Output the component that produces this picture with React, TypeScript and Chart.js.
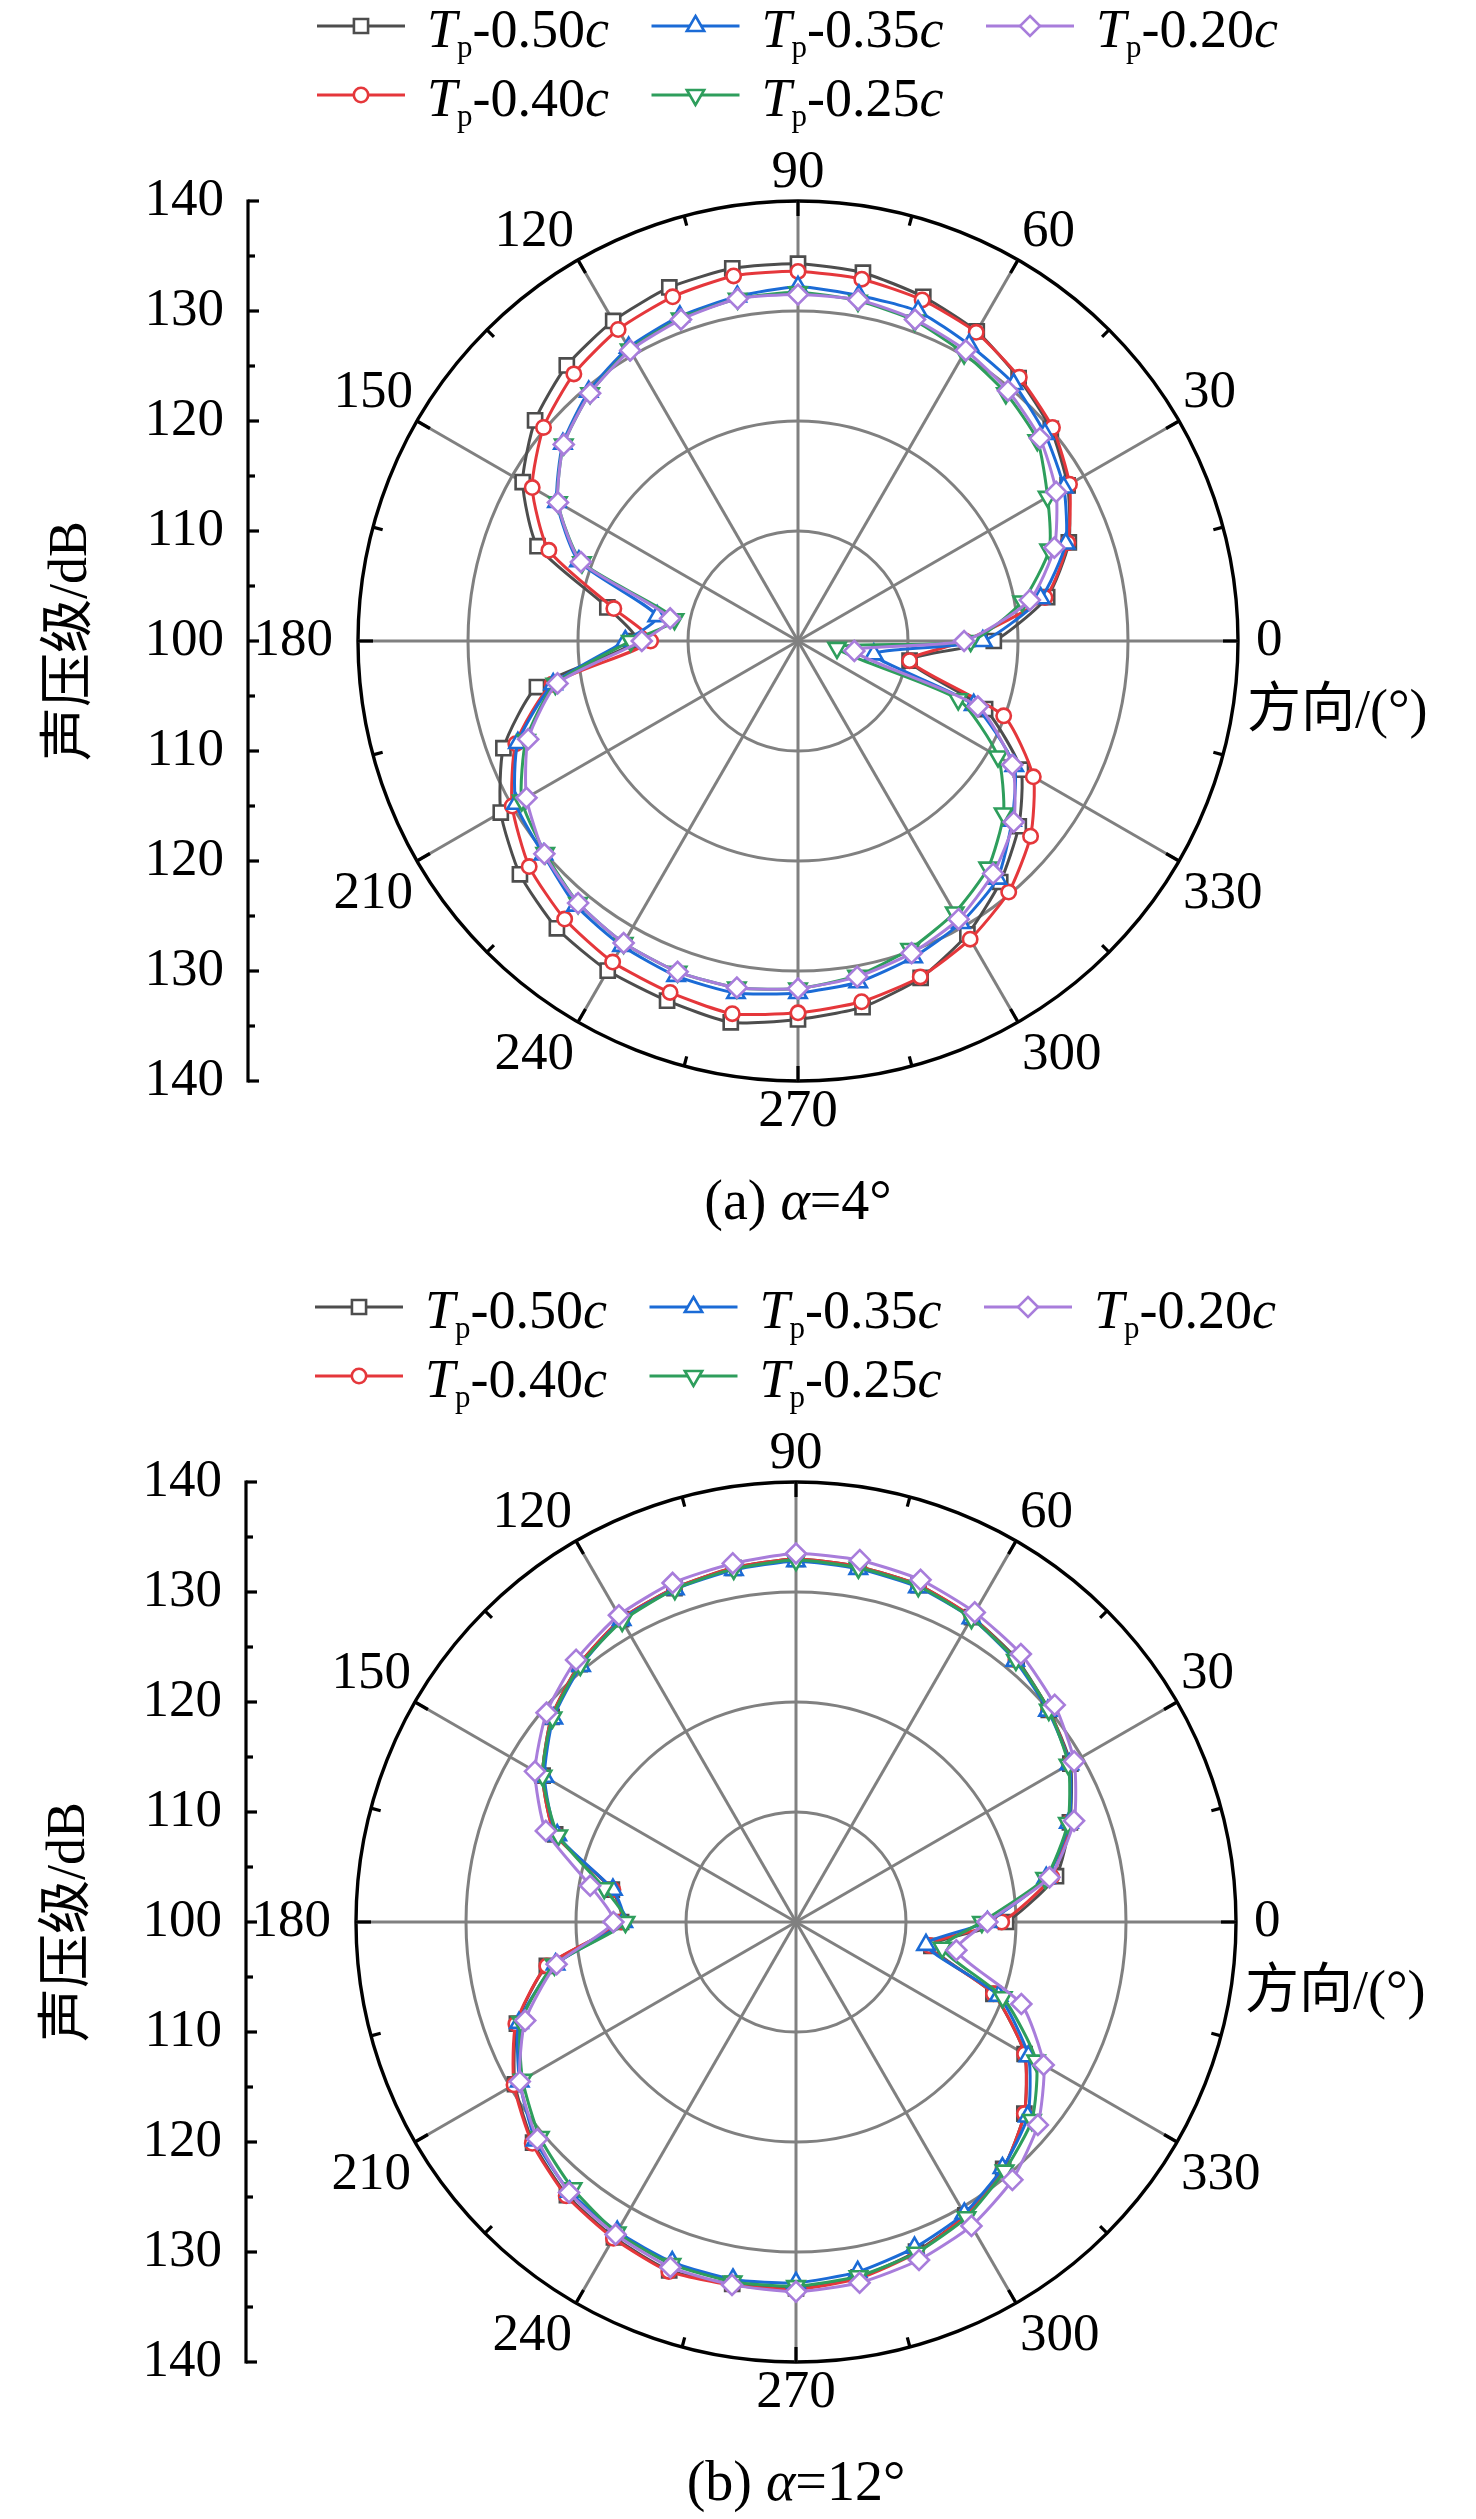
import React, { useEffect, useRef } from 'react';
import { Chart, registerables } from 'chart.js';

Chart.register(...registerables);

// ---------- data ----------
const ANGLES_DEG = [0, 10, 20, 30, 40, 50, 60, 70, 80, 90, 100, 110, 120, 130, 140, 150, 160, 170,
  180, 190, 200, 210, 220, 230, 240, 250, 260, 270, 280, 290, 300, 310, 320, 330, 340, 350];
const ANGLE_TICK_LABELS = [0, 30, 60, 90, 120, 150, 180, 210, 240, 270, 300, 330];
const ANGLE_MINOR_TICKS = [15, 45, 75, 105, 135, 165, 195, 225, 255, 285, 315, 345];
const R_TICKS = [100, 110, 120, 130, 140];
const R_MINOR_TICKS = [105, 115, 125, 135];
const SERIES_LABELS = ['0.50', '0.40', '0.35', '0.25', '0.20'];

// alpha = 4 deg
const A4_TP050 = [117.8, 123.0, 126.2, 128.3, 130.0, 131.2, 132.5, 133.3, 134.0, 134.3, 134.4, 134.2, 133.6, 132.7, 131.2, 128.9, 125.2, 117.6,
  114.7, 124.1, 128.5, 131.2, 133.0, 134.1, 134.6, 134.8, 135.2, 134.4, 133.8, 132.6, 130.8, 128.6, 126.2, 123.4, 118.1, 110.3];
const A4_TP040 = [115.2, 122.8, 126.1, 128.5, 130.2, 131.3, 132.4, 133.0, 133.4, 133.6, 133.7, 133.3, 132.7, 131.7, 130.2, 127.9, 124.1, 117.0,
  113.4, 122.7, 127.3, 130.0, 131.9, 133.0, 133.7, 134.0, 134.4, 133.8, 133.3, 132.5, 131.3, 129.8, 127.6, 124.7, 119.9, 110.3];
const A4_TP035 = [116.8, 122.4, 125.9, 127.9, 129.3, 130.5, 131.1, 131.9, 131.9, 132.2, 131.8, 131.4, 130.8, 129.6, 127.9, 125.3, 121.2, 113.0,
  115.7, 122.6, 127.1, 129.6, 130.2, 131.4, 132.0, 132.4, 132.5, 132.0, 131.5, 130.6, 129.6, 128.2, 125.4, 122.7, 117.0, 107.0];
const A4_TP025 = [115.7, 120.7, 124.3, 126.2, 128.4, 129.4, 130.2, 131.0, 131.4, 131.7, 131.6, 131.2, 130.6, 129.4, 127.8, 125.2, 120.9, 111.4,
  115.2, 122.4, 126.3, 129.0, 130.0, 131.1, 131.7, 132.0, 132.0, 131.6, 130.9, 129.8, 128.5, 126.9, 124.4, 121.0, 115.5, 103.6];
const A4_TP020 = [115.1, 121.4, 124.8, 127.1, 128.7, 129.7, 130.5, 131.1, 131.5, 131.5, 131.6, 131.1, 130.5, 129.4, 127.8, 125.2, 121.0, 111.8,
  114.2, 122.2, 126.1, 128.5, 130.1, 131.1, 131.7, 132.0, 132.0, 131.6, 131.0, 130.2, 129.2, 127.6, 125.6, 122.5, 117.4, 105.2];

// alpha = 12 deg
const A12_TP050 = [119.1, 124.0, 126.5, 128.8, 130.0, 131.2, 132.0, 132.6, 132.8, 133.0, 132.7, 132.3, 131.8, 130.6, 129.0, 126.6, 123.3, 117.0,
  115.9, 123.0, 127.0, 129.5, 131.2, 132.4, 133.1, 133.7, 133.4, 133.3, 132.8, 131.9, 130.8, 129.3, 127.1, 124.0, 119.1, 112.5];
const A12_TP040 = [118.7, 123.6, 126.4, 128.7, 130.0, 131.1, 132.0, 132.6, 132.8, 133.0, 132.7, 132.3, 131.8, 130.6, 129.0, 126.6, 123.3, 116.9,
  115.9, 123.0, 127.1, 129.6, 131.3, 132.5, 133.2, 133.8, 133.5, 133.4, 132.9, 132.0, 130.8, 129.3, 127.1, 124.0, 119.1, 112.3];
const A12_TP035 = [117.4, 123.1, 126.4, 128.7, 129.9, 131.0, 131.9, 132.4, 132.6, 132.8, 132.5, 132.2, 131.7, 130.4, 128.8, 126.4, 123.1, 116.9,
  115.7, 122.2, 126.8, 129.0, 130.9, 132.0, 132.5, 132.9, 133.0, 132.8, 132.3, 131.5, 130.6, 129.2, 127.5, 124.4, 119.6, 112.0];
const A12_TP025 = [116.9, 123.0, 126.3, 128.6, 130.0, 131.1, 131.9, 132.5, 132.7, 132.9, 132.6, 132.2, 131.6, 130.5, 128.9, 126.6, 123.0, 117.7,
  115.5, 122.3, 126.6, 128.7, 130.4, 131.6, 132.6, 133.1, 133.2, 133.1, 132.7, 132.0, 131.0, 129.5, 128.0, 125.2, 120.0, 113.5];
const A12_TP020 = [117.4, 123.4, 126.9, 129.2, 130.7, 131.8, 132.5, 133.1, 133.4, 133.5, 133.1, 132.8, 132.2, 131.1, 129.6, 127.4, 124.2, 119.0,
  116.6, 122.1, 126.2, 129.0, 130.7, 132.1, 132.8, 133.4, 133.5, 133.6, 133.3, 132.7, 131.9, 130.6, 128.7, 126.0, 121.8, 114.8];

// ---------- styles ----------
const COLORS = ['#4d4d4d', '#e5373b', '#1b6bd6', '#2e9e5c', '#a87ddb'];
const POINT_STYLES = ['rect', 'circle', 'triangle', 'triangle', 'rectRot'];
const POINT_ROT = [0, 0, 0, 180, 0];
const POINT_R = [10, 7.2, 10, 10, 10];
const LEGEND_SLOTS = [[0, 0], [1, 0], [0, 1], [1, 1], [0, 2]]; // [row, col]

const SERIF = '"Liberation Serif", Tinos, "Times New Roman", Times, "Nimbus Roman", "DejaVu Serif", serif, "Noto Sans CJK SC"';
const font = (size: number, italic = false) => `${italic ? 'italic ' : ''}${size}px ${SERIF}`;

type Part = { t: string; size: number; italic?: boolean; dy?: number };

function partsWidth(ctx: CanvasRenderingContext2D, parts: Part[]) {
  let w = 0;
  for (const p of parts) {
    ctx.font = font(p.size, p.italic);
    w += ctx.measureText(p.t).width;
  }
  return w;
}

function drawParts(ctx: CanvasRenderingContext2D, parts: Part[], x: number, y: number) {
  ctx.textAlign = 'left';
  ctx.textBaseline = 'alphabetic';
  let px = x;
  for (const p of parts) {
    ctx.font = font(p.size, p.italic);
    ctx.fillText(p.t, px, y + (p.dy || 0));
    px += ctx.measureText(p.t).width;
  }
}

function drawMarker(ctx: CanvasRenderingContext2D, style: string, rot: number, r: number, x: number, y: number, color: string) {
  ctx.save();
  ctx.translate(x, y);
  ctx.rotate((rot * Math.PI) / 180);
  ctx.beginPath();
  if (style === 'rect') {
    const s = r * Math.SQRT1_2;
    ctx.rect(-s, -s, 2 * s, 2 * s);
  } else if (style === 'circle') {
    ctx.arc(0, 0, r, 0, Math.PI * 2);
  } else if (style === 'triangle') {
    for (let k = 0; k < 3; k++) {
      const a = (k * 2 * Math.PI) / 3;
      const px = Math.sin(a) * r;
      const py = -Math.cos(a) * r;
      if (k === 0) ctx.moveTo(px, py);
      else ctx.lineTo(px, py);
    }
    ctx.closePath();
  } else {
    ctx.moveTo(0, -r);
    ctx.lineTo(r, 0);
    ctx.lineTo(0, r);
    ctx.lineTo(-r, 0);
    ctx.closePath();
  }
  ctx.fillStyle = '#ffffff';
  ctx.fill();
  ctx.lineWidth = 2.6;
  ctx.strokeStyle = color;
  ctx.stroke();
  ctx.restore();
}

// radar index i runs clockwise from 0 deg; polar angle is counter-clockwise
const toRadarOrder = <T,>(arr: T[]): T[] => arr.map((_, i) => arr[(arr.length - i) % arr.length]);

function makeDecorPlugin(caption: Part[]) {
  return {
    id: 'decor',
    afterDraw(chart: any) {
      const ctx: CanvasRenderingContext2D = chart.ctx;
      const s = chart.scales.r;
      const cx = s.xCenter;
      const cy = s.yCenter;
      const R = s.getDistanceFromCenterForValue(s.max);
      const n = chart.data.labels.length;
      const step = 360 / n;
      const idx = (deg: number) => ((360 - deg) % 360) / step;

      ctx.save();
      ctx.fillStyle = '#000';
      ctx.strokeStyle = '#000';
      ctx.lineCap = 'butt';

      // ticks on the outer circle
      ctx.lineWidth = 3.2;
      const tick = (deg: number, len: number) => {
        const a = s.getPointPosition(idx(deg), R + 1);
        const b = s.getPointPosition(idx(deg), R - len);
        ctx.beginPath();
        ctx.moveTo(a.x, a.y);
        ctx.lineTo(b.x, b.y);
        ctx.stroke();
      };
      ANGLE_TICK_LABELS.forEach((d) => tick(d, 15));
      ANGLE_MINOR_TICKS.forEach((d) => tick(d, 10));

      // angle labels
      ctx.font = font(53);
      ctx.textBaseline = 'middle';
      for (const deg of ANGLE_TICK_LABELS) {
        const p = s.getPointPosition(idx(deg), R);
        let x = p.x;
        let y = p.y;
        let align: CanvasTextAlign = 'center';
        if (deg === 0) { align = 'left'; x += 18; }
        else if (deg === 180) { align = 'right'; x -= 25; }
        else if (deg === 90) { y -= 28; }
        else if (deg === 270) { y += 31; }
        else {
          const c = Math.cos((deg * Math.PI) / 180);
          align = c > 0 ? 'left' : 'right';
          x += c > 0 ? 4 : -4;
          y += deg < 180 ? -28 : 33;
        }
        ctx.textAlign = align;
        ctx.fillText(String(deg), x, y);
      }

      // left radial axis
      const ax = cx - 550;
      ctx.lineWidth = 3.2;
      ctx.beginPath();
      ctx.moveTo(ax, cy - R - 1.5);
      ctx.lineTo(ax, cy + R + 1.5);
      ctx.stroke();
      ctx.textAlign = 'right';
      ctx.textBaseline = 'middle';
      ctx.font = font(53);
      for (const v of R_TICKS) {
        const d = s.getDistanceFromCenterForValue(v);
        const ys = d === 0 ? [cy] : [cy - d, cy + d];
        for (const y of ys) {
          ctx.beginPath();
          ctx.moveTo(ax, y);
          ctx.lineTo(ax + 11, y);
          ctx.stroke();
          ctx.fillText(String(v), ax - 24, y);
        }
      }
      for (const v of R_MINOR_TICKS) {
        const d = s.getDistanceFromCenterForValue(v);
        for (const y of [cy - d, cy + d]) {
          ctx.beginPath();
          ctx.moveTo(ax, y);
          ctx.lineTo(ax + 7, y);
          ctx.stroke();
        }
      }

      // axis titles
      ctx.save();
      ctx.translate(cx - 726, cy);
      ctx.rotate(-Math.PI / 2);
      ctx.textAlign = 'center';
      ctx.textBaseline = 'middle';
      ctx.font = font(54);
      ctx.fillText('声压级/dB', 0, 0);
      ctx.restore();

      ctx.textAlign = 'left';
      ctx.textBaseline = 'middle';
      ctx.font = font(54);
      ctx.fillText('方向/(°)', cx + 449, cy + 72);

      // caption
      const cw = partsWidth(ctx, caption);
      drawParts(ctx, caption, cx - cw / 2, cy + 578);

      // legend
      chart.data.datasets.forEach((ds: any, i: number) => {
        const [row, col] = LEGEND_SLOTS[i];
        const x0 = cx - 481 + col * 334.5;
        const ym = 26 + row * 69;
        ctx.strokeStyle = ds.borderColor;
        ctx.lineWidth = 3;
        ctx.beginPath();
        ctx.moveTo(x0, ym);
        ctx.lineTo(x0 + 88, ym);
        ctx.stroke();
        drawMarker(ctx, ds.pointStyle, ds.pointRotation || 0, ds.pointRadius, x0 + 44, ym, ds.borderColor);
        ctx.fillStyle = '#000';
        drawParts(ctx, [
          { t: 'T', size: 54, italic: true },
          { t: 'p', size: 31, dy: 10 },
          { t: '-' + SERIES_LABELS[i], size: 54 },
          { t: 'c', size: 54, italic: true },
        ], x0 + 110, ym + 21);
      });

      ctx.restore();
    },
  };
}

type PanelProps = {
  top: number;
  height: number;
  left: number;
  series: number[][];
  caption: Part[];
};

function PolarPanel({ top, height, left, series, caption }: PanelProps) {
  const ref = useRef<HTMLCanvasElement>(null);

  useEffect(() => {
    if (!ref.current) return;
    const R = 440;
    const cx = 798 + left;
    const cy = 641;
    const chart = new Chart(ref.current, {
      type: 'radar',
      data: {
        labels: toRadarOrder(ANGLES_DEG).map(String),
        datasets: series.map((vals, i) => ({
          label: 'Tp-' + SERIES_LABELS[i] + 'c',
          data: toRadarOrder(vals),
          borderColor: COLORS[i],
          backgroundColor: COLORS[i],
          borderWidth: 3,
          pointStyle: POINT_STYLES[i] as any,
          pointRotation: POINT_ROT[i],
          pointRadius: POINT_R[i],
          pointBorderWidth: 2.6,
          pointBorderColor: COLORS[i],
          pointBackgroundColor: '#ffffff',
          tension: 0.2,
          fill: false,
          order: 5 - i,
        })),
      },
      options: {
        responsive: false,
        animation: false,
        events: [],
        layout: {
          padding: { left: cx - R, right: 1476 - (cx + R), top: cy - R, bottom: height - (cy + R) },
        },
        plugins: {
          legend: { display: false },
          tooltip: { enabled: false },
          title: { display: false },
        },
        scales: {
          r: {
            min: 100,
            max: 140,
            startAngle: 90,
            ticks: { display: false, stepSize: 10 },
            pointLabels: { display: false },
            grid: {
              circular: true,
              color: (c: any) => (c.index === R_TICKS.length - 1 ? '#000000' : '#808080'),
              lineWidth: (c: any) => (c.index === R_TICKS.length - 1 ? 3.4 : 3),
            },
            angleLines: {
              color: '#808080',
              lineWidth: (c: any) => (Number(c.label) % 30 === 0 ? 3 : 0),
            },
          },
        },
      },
      plugins: [makeDecorPlugin(caption)],
    } as any);
    return () => chart.destroy();
  }, [top, height, left, series, caption]);

  return (
    <canvas
      ref={ref}
      width={1476}
      height={height}
      style={{ position: 'absolute', left: 0, top, width: 1476, height, display: 'block' }}
    />
  );
}

const CAPTION_A: Part[] = [
  { t: '(a) ', size: 56 },
  { t: 'α', size: 56, italic: true },
  { t: '=4°', size: 56 },
];
const CAPTION_B: Part[] = [
  { t: '(b) ', size: 56 },
  { t: 'α', size: 56, italic: true },
  { t: '=12°', size: 56 },
];
const SERIES_A4 = [A4_TP050, A4_TP040, A4_TP035, A4_TP025, A4_TP020];
const SERIES_A12 = [A12_TP050, A12_TP040, A12_TP035, A12_TP025, A12_TP020];

export default function App() {
  return (
    <div style={{ position: 'absolute', left: 0, top: 0, width: 1476, height: 2519, background: '#ffffff', overflow: 'hidden' }}>
      <PolarPanel top={0} height={1281} left={0} series={SERIES_A4} caption={CAPTION_A} />
      <PolarPanel top={1281} height={1238} left={-2} series={SERIES_A12} caption={CAPTION_B} />
    </div>
  );
}
